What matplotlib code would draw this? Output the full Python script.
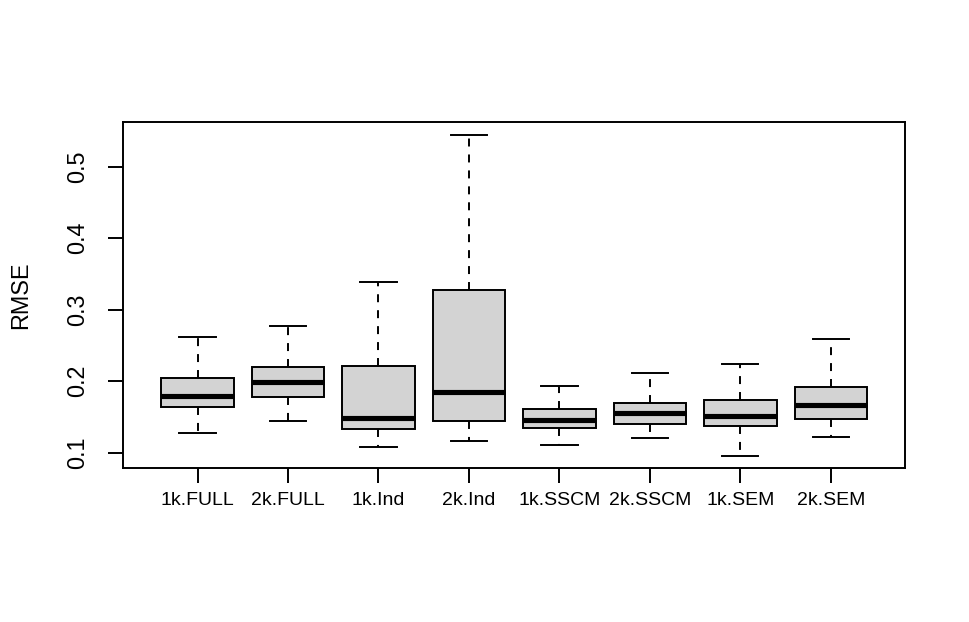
import matplotlib.pyplot as plt

plt.rcParams["font.family"] = ["Liberation Sans", "DejaVu Sans"]

names = ["1k.FULL", "2k.FULL", "1k.Ind", "2k.Ind",
         "1k.SSCM", "2k.SSCM", "1k.SEM", "2k.SEM"]
whislo = [0.1275, 0.1443, 0.1084, 0.1159, 0.1108, 0.1210, 0.0958, 0.1220]
q1 = [0.1644, 0.1779, 0.1327, 0.1448, 0.1341, 0.1406, 0.1373, 0.1476]
med = [0.1797, 0.1993, 0.1481, 0.1845, 0.1462, 0.1551, 0.1513, 0.1663]
q3 = [0.2049, 0.2203, 0.2208, 0.3271, 0.1607, 0.1691, 0.1733, 0.1923]
whishi = [0.2618, 0.2768, 0.3392, 0.5448, 0.1937, 0.2110, 0.2241, 0.2586]
yticks = [0.1, 0.2, 0.3, 0.4, 0.5]

stats = []
for i in range(len(names)):
    stats.append({"label": names[i], "whislo": whislo[i], "q1": q1[i],
                  "med": med[i], "q3": q3[i], "whishi": whishi[i],
                  "fliers": []})

fig = plt.figure(figsize=(9.69, 6.22), dpi=100)
ax = fig.add_axes([0.1273, 0.2471, 0.934 - 0.1273, 0.8043 - 0.2471])

lw = 1.4
ax.bxp(stats, positions=range(1, 9), widths=0.8, patch_artist=True,
       showfliers=False,
       boxprops=dict(facecolor="#D3D3D3", edgecolor="black", linewidth=lw),
       medianprops=dict(color="black", linewidth=3.7, solid_capstyle="butt"),
       whiskerprops=dict(color="black", linewidth=lw, linestyle=(0, (4.1, 4.1))),
       capprops=dict(color="black", linewidth=lw),
       capwidths=0.4)

ax.set_xlim(0.18, 8.82)
ax.set_ylim(0.0782, 0.563)
ax.set_yticks(yticks)
ax.set_yticklabels([str(v) for v in yticks], rotation=90, va="center")
ax.set_xticks(range(1, 9))
ax.set_xticklabels(names)

for s in ax.spines.values():
    s.set_linewidth(lw)
ax.tick_params(axis="y", length=11, width=lw, pad=14, labelsize=16.8)
ax.tick_params(axis="x", length=11, width=lw, pad=6, labelsize=14)
ax.set_ylabel("RMSE", fontsize=16.8, labelpad=24)

fig.savefig("out.png", dpi=100)
